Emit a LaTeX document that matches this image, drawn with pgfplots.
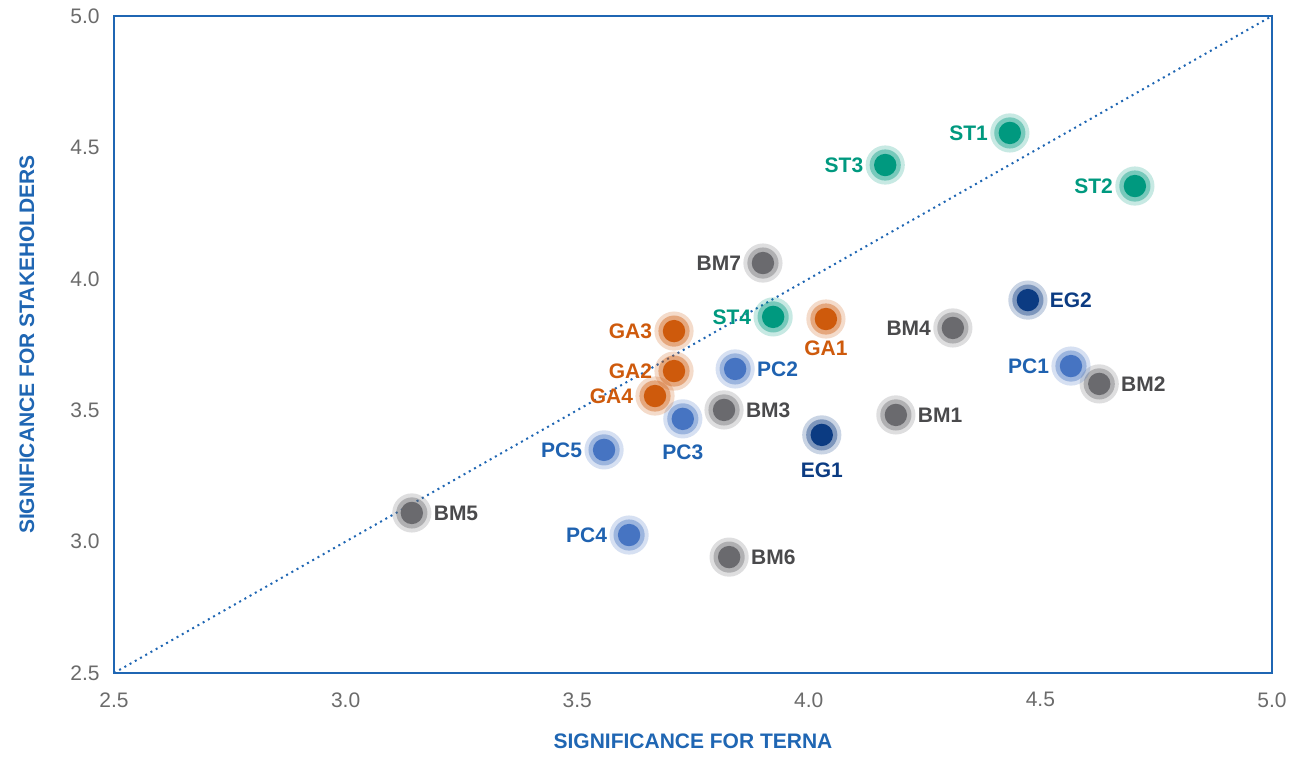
\documentclass[border=0pt]{standalone}
\usepackage{fontspec}
\setmainfont{Liberation Sans}
\usepackage{pgfplots}
\usepackage{pgfplotstable}
\pgfplotsset{compat=1.18}

\definecolor{axisblue}{HTML}{1F66B3}
\definecolor{tealc}{HTML}{00997F}
\definecolor{orangec}{HTML}{CE5A0C}
\definecolor{pcc}{HTML}{4674C2}
\definecolor{pclab}{HTML}{1F62B0}
\definecolor{egc}{HTML}{0B3B82}
\definecolor{bmc}{HTML}{6A6A6E}
\definecolor{bmlab}{HTML}{4A4A4C}
\definecolor{tickgray}{HTML}{6B6B6B}

\pgfplotstableread{
x y label
4.434 4.555 ST1
4.704 4.353 ST2
4.165 4.433 ST3
3.923 3.855 ST4
}\dataSTe
\pgfplotstableread{
x y label
4.037 3.847 GA1
}\dataGAn
\pgfplotstableread{
x y label
3.709 3.649 GA2
3.709 3.801 GA3
3.668 3.554 GA4
}\dataGAe
\pgfplotstableread{
x y label
4.566 3.668 PC1
3.612 3.025 PC4
3.558 3.349 PC5
}\dataPCe
\pgfplotstableread{
x y label
3.841 3.657 PC2
}\dataPCw
\pgfplotstableread{
x y label
3.728 3.467 PC3
}\dataPCn
\pgfplotstableread{
x y label
4.028 3.406 EG1
}\dataEGn
\pgfplotstableread{
x y label
4.473 3.919 EG2
}\dataEGw
\pgfplotstableread{
x y label
4.188 3.482 BM1
4.627 3.600 BM2
3.817 3.501 BM3
3.143 3.109 BM5
3.828 2.941 BM6
}\dataBMw
\pgfplotstableread{
x y label
4.311 3.813 BM4
3.901 4.060 BM7
}\dataBMe

\newcommand{\halo}[5]{%
 \addplot[only marks, mark=*, color=#2, mark size=9.8pt, mark options={draw opacity=0, line width=0pt, fill=#2, fill opacity=0.22}] table[x=x,y=y]{#1};
 \addplot[only marks, mark=*, color=#2, mark size=7.8pt, mark options={draw opacity=0, line width=0pt, fill=#2, fill opacity=0.4}] table[x=x,y=y]{#1};
 \addplot[only marks, mark=*, color=#2, mark size=5.6pt, mark options={draw opacity=0, line width=0pt, fill=#2},
   nodes near coords, point meta=explicit symbolic,
   every node near coord/.append style={anchor=#4, inner sep=11pt, text=#3, text opacity=1,
     font=\fontsize{10.5}{12}\selectfont\bfseries, #5}] table[x=x,y=y,meta=label]{#1};
}

\begin{document}
\begin{tikzpicture}
\begin{axis}[
  scale only axis, width=579pt, height=328.5pt,
  xmin=2.5, xmax=5, ymin=2.5, ymax=5,
  xtick={2.5,3,3.5,4,4.5,5}, ytick={2.5,3,3.5,4,4.5,5},
  major tick length=0pt,
  axis line style={axisblue, line width=0.6pt},
  tick label style={font=\fontsize{10.5}{12}\selectfont, text=tickgray},
  /pgf/number format/assume math mode=true,
  /pgf/number format/fixed, /pgf/number format/fixed zerofill, /pgf/number format/precision=1,
  yticklabel style={inner sep=0pt, xshift=-7pt},
  xticklabel style={inner sep=0pt, yshift=-9.5pt},
  xlabel={SIGNIFICANCE FOR TERNA},
  ylabel={SIGNIFICANCE FOR STAKEHOLDERS},
  label style={font=\fontsize{10.5}{12}\selectfont\bfseries, text=axisblue},
  xlabel style={at={(axis description cs:0.5,0)}, anchor=center, yshift=-34pt},
  ylabel style={at={(axis description cs:0,0.5)}, anchor=center, yshift=43.5pt},
]
\addplot[axisblue, line width=1pt, dash pattern=on 1pt off 2pt] coordinates {(2.5,2.5) (5,5)};
\halo{\dataBMw}{bmc}{bmlab}{west}{}
\halo{\dataBMe}{bmc}{bmlab}{east}{}
\halo{\dataPCe}{pcc}{pclab}{east}{}
\halo{\dataPCw}{pcc}{pclab}{west}{}
\halo{\dataPCn}{pcc}{pclab}{north}{yshift=-2pt}
\halo{\dataEGn}{egc}{egc}{north}{yshift=-3pt}
\halo{\dataEGw}{egc}{egc}{west}{}
\halo{\dataGAn}{orangec}{orangec}{north}{}
\halo{\dataGAe}{orangec}{orangec}{east}{}
\halo{\dataSTe}{tealc}{tealc}{east}{}
\end{axis}
\pgfresetboundingbox
\path ([shift={(-57pt,-41.5pt)}]current axis.south west) rectangle ([shift={(9pt,8pt)}]current axis.north east);
\end{tikzpicture}
\end{document}
